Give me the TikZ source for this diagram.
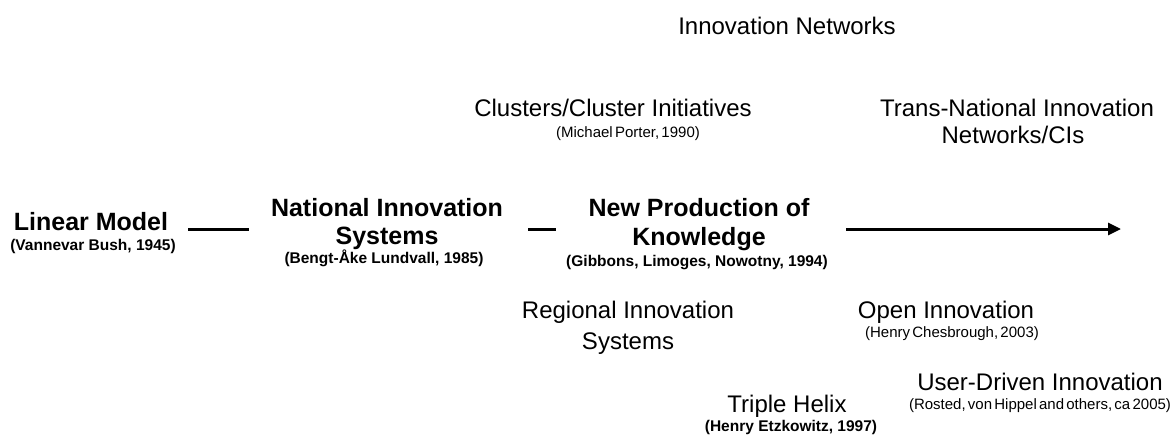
\documentclass[tikz,border=0pt]{standalone}
\usepackage{fontspec}
\setmainfont{Liberation Sans}
\usetikzlibrary{arrows.meta}
\newcommand\tightspaces{\spaceskip=0.15em plus 0.05em\relax}
\begin{document}
\begin{tikzpicture}[x=1pt,y=-1pt,
  ttl/.style={font=\fontsize{25}{29}\selectfont\bfseries, inner sep=0pt, anchor=base},
  sbt/.style={font=\fontsize{15.5}{18}\selectfont\bfseries, inner sep=0pt, anchor=base},
  lbl/.style={font=\fontsize{24}{28}\selectfont, inner sep=0pt, anchor=base},
  nte/.style={font=\fontsize{15}{18}\selectfont, execute at begin node=\tightspaces, inner sep=0pt, anchor=base},
  conn/.style={line width=3pt}]
\useasboundingbox (0,0) rectangle (1171,436);

% top labels
\node[lbl] (net) at (787,35) {Innovation Networks};
\node[lbl] (clu) at (613,117) {Clusters/Cluster Initiatives};
\node[nte] (clus) at (628,137) {(Michael Porter, 1990)};
\node[lbl] (tni1) at (1017,117) {Trans-National Innovation};
\node[lbl] (tni2) at (1013,143) {Networks/CIs};

% main row
\node[ttl] (lm) at (91,230) {Linear Model};
\node[sbt] (lms) at (93,250) {(Vannevar Bush, 1945)};
\node[ttl] (nis1) at (387,216) {National Innovation};
\node[ttl] (nis2) at (387,244) {Systems};
\node[sbt] (niss) at (384,263) {(Bengt-Åke Lundvall, 1985)};
\node[ttl] (npk1) at (699,216) {New Production of};
\node[ttl] (npk2) at (699,245) {Knowledge};
\node[sbt] (npks) at (697,266) {(Gibbons, Limoges, Nowotny, 1994)};

% bottom labels
\node[lbl] (ris1) at (628,318) {Regional Innovation};
\node[lbl] (ris2) at (628,349) {Systems};
\node[lbl] (oi) at (946,318) {Open Innovation};
\node[nte] (ois) at (952,337) {(Henry Chesbrough, 2003)};
\node[lbl] (udi) at (1040,390) {User-Driven Innovation};
\node[nte] (udis) at (1040,409) {(Rosted, von Hippel and others, ca 2005)};
\node[lbl] (th) at (787,412) {Triple Helix};
\node[sbt] (ths) at (791,431) {(Henry Etzkowitz, 1997)};

% connectors
\coordinate (c1a) at (188,229);
\coordinate (c1b) at (249,229);
\coordinate (c2a) at (528,229);
\coordinate (c2b) at (556,229);
\coordinate (c3a) at (846,229);
\coordinate (c3b) at (1121,229);
\draw[conn] (c1a) -- (c1b);
\draw[conn] (c2a) -- (c2b);
\draw[conn,-{Triangle[length=13pt,width=12pt]}] (c3a) -- (c3b);
\end{tikzpicture}
\end{document}
